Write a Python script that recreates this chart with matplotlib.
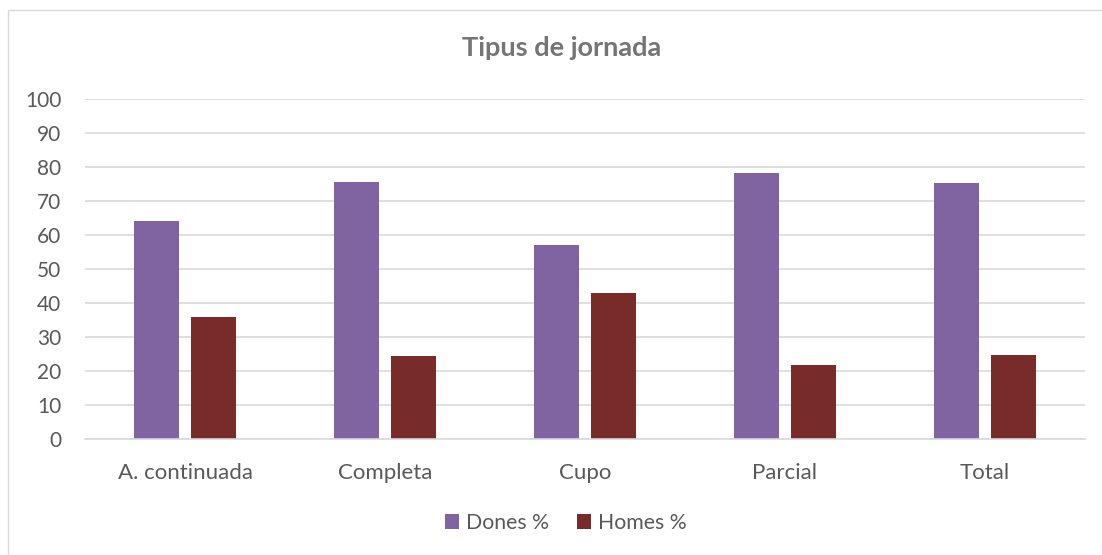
import matplotlib.pyplot as plt
import numpy as np
from matplotlib.patches import Rectangle

categories = ["A. continuada", "Completa", "Cupo", "Parcial", "Total"]
dones = [64.0, 75.5, 57.0, 78.1, 75.3]
homes = [36.0, 24.5, 43.0, 21.9, 24.7]

PURPLE = "#8064A2"
DARKRED = "#772C2A"
TEXT = "#595959"
GRID = "#D9D9D9"

plt.rcParams["font.family"] = ["Lato", "DejaVu Sans"]

W, H = 1102, 555
fig = plt.figure(figsize=(W / 100, H / 100), dpi=100)

# outer chart border (only top/left visible in the crop)
fig.patches.append(Rectangle((8 / W, -0.1), 2, (H - 10) / H + 0.1, transform=fig.transFigure,
                             fill=False, edgecolor=GRID, linewidth=1.0))

ax = fig.add_axes([85 / W, (H - 439) / H, 1000 / W, 340 / H])

x = np.arange(len(categories))
width = 0.225
off = 0.1425
ax.bar(x - off, dones, width, color=PURPLE, label="Dones %")
ax.bar(x + off, homes, width, color=DARKRED, label="Homes %")

ax.set_xlim(-0.5, len(categories) - 0.5)
ax.set_ylim(0, 100)
ax.set_yticks(np.arange(0, 101, 10))
ax.set_xticks(x)
ax.set_xticklabels(categories)
ax.yaxis.grid(True, color=GRID, linewidth=1.2)
ax.set_axisbelow(True)
for side in ["top", "right", "left"]:
    ax.spines[side].set_visible(False)
ax.spines["bottom"].set_color(GRID)
ax.spines["bottom"].set_linewidth(1.2)
ax.tick_params(axis="y", length=0, labelsize=15, colors=TEXT, pad=17)
ax.tick_params(axis="x", length=0, labelsize=16, colors=TEXT, pad=17)

fig.text(0.5 + 11 / W, (H - 48) / H, "Tipus de jornada", ha="center", va="center",
         fontsize=19.5, fontweight="bold", color="#757575")

leg = fig.legend(loc="center", bbox_to_anchor=(566 / W, (H - 523) / H), ncol=2,
                 frameon=False, fontsize=15.3, handlelength=0.65, handleheight=0.65,
                 handletextpad=0.35, columnspacing=1.3)
for t in leg.get_texts():
    t.set_color(TEXT)

fig.savefig("out.png", dpi=100)
